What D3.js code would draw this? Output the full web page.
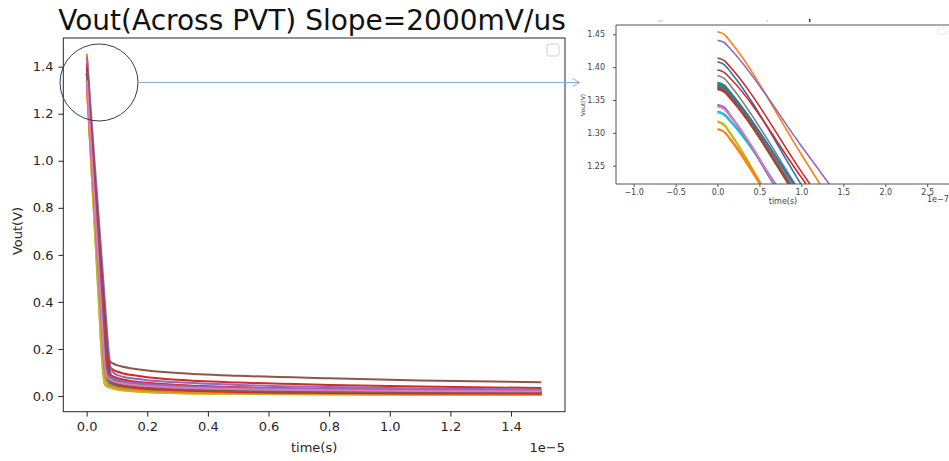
<!DOCTYPE html>
<html><head><meta charset="utf-8">
<script src="https://cdn.jsdelivr.net/npm/d3@7"></script>
<style>body{margin:0;background:#fff} svg{display:block;font-family:"DejaVu Sans",sans-serif}</style>
</head><body><svg id="c" width="949" height="461"></svg>
<script>
// time samples (microseconds)
const timeUs = [0, 0.008, 0.016, 0.1, 0.2, 0.3, 0.4, 0.5, 0.6, 0.7, 0.8, 0.9, 1.0, 1.2, 1.5, 2, 3, 5, 8, 11, 15];
// Vout (V) per PVT corner
const blueA   = [1.408,1.404,1.392,1.221,1.018,0.815,0.612,0.409,0.206,0.066,0.058,0.054,0.050,0.045,0.041,0.036,0.030,0.023,0.018,0.015,0.014];
const orangeA = [1.454,1.450,1.438,1.267,1.064,0.861,0.658,0.455,0.252,0.068,0.052,0.047,0.043,0.038,0.034,0.029,0.024,0.018,0.013,0.011,0.010];
const greenA  = [1.377,1.373,1.361,1.193,0.993,0.793,0.593,0.393,0.193,0.095,0.085,0.078,0.073,0.066,0.060,0.054,0.046,0.036,0.027,0.022,0.018];
const redA    = [1.414,1.410,1.399,1.241,1.053,0.865,0.677,0.489,0.301,0.135,0.118,0.110,0.104,0.096,0.089,0.080,0.069,0.057,0.047,0.040,0.034];
const purpleA = [1.441,1.4375,1.427,1.280,1.105,0.930,0.755,0.580,0.405,0.230,0.115,0.098,0.090,0.082,0.075,0.067,0.058,0.047,0.038,0.032,0.027];
const brownA  = [1.366,1.362,1.351,1.198,1.015,0.832,0.649,0.466,0.283,0.158,0.143,0.136,0.131,0.124,0.117,0.108,0.098,0.086,0.075,0.066,0.058];
const pinkA   = [1.342,1.338,1.325,1.149,0.939,0.729,0.519,0.309,0.110,0.085,0.076,0.070,0.065,0.059,0.054,0.048,0.041,0.034,0.029,0.026,0.024];
const grayA   = [1.387,1.383,1.371,1.207,1.011,0.815,0.619,0.423,0.227,0.058,0.047,0.042,0.038,0.033,0.029,0.024,0.018,0.013,0.010,0.008,0.007];
const oliveA  = [1.316,1.311,1.297,1.101,0.867,0.633,0.399,0.165,0.048,0.039,0.034,0.030,0.027,0.023,0.020,0.016,0.012,0.009,0.006,0.005,0.004];
const cyanA   = [1.331,1.327,1.316,1.164,0.982,0.800,0.618,0.436,0.254,0.078,0.048,0.043,0.039,0.034,0.030,0.025,0.020,0.015,0.012,0.010,0.009];
const blueB   = [1.373,1.369,1.358,1.206,1.024,0.842,0.660,0.478,0.296,0.114,0.056,0.051,0.047,0.042,0.037,0.031,0.025,0.019,0.015,0.013,0.012];
const orangeB = [1.305,1.301,1.288,1.115,0.908,0.701,0.494,0.287,0.088,0.049,0.042,0.038,0.034,0.030,0.026,0.022,0.017,0.013,0.010,0.009,0.008];
const greenB  = [1.369,1.365,1.353,1.191,0.997,0.803,0.609,0.415,0.221,0.080,0.070,0.064,0.060,0.054,0.049,0.043,0.035,0.027,0.021,0.018,0.016];
const redB    = [1.396,1.392,1.382,1.232,1.054,0.876,0.698,0.520,0.342,0.164,0.090,0.082,0.077,0.070,0.063,0.056,0.047,0.037,0.029,0.025,0.022];
const purpleB = [1.341,1.337,1.324,1.149,0.940,0.731,0.522,0.313,0.115,0.085,0.076,0.070,0.066,0.060,0.054,0.048,0.041,0.033,0.027,0.024,0.022];
const brownB  = [1.368,1.364,1.353,1.195,1.007,0.819,0.631,0.443,0.255,0.080,0.060,0.055,0.050,0.045,0.040,0.035,0.029,0.022,0.018,0.016,0.015];
const pinkB   = [1.340,1.336,1.324,1.153,0.950,0.747,0.544,0.341,0.138,0.078,0.070,0.064,0.060,0.054,0.049,0.043,0.037,0.030,0.025,0.022,0.020];
const grayB   = [1.375,1.371,1.360,1.199,1.008,0.817,0.626,0.435,0.244,0.060,0.044,0.039,0.035,0.030,0.026,0.021,0.016,0.012,0.009,0.007,0.006];
const oliveB  = [1.318,1.313,1.299,1.104,0.871,0.638,0.405,0.172,0.050,0.041,0.036,0.032,0.029,0.025,0.021,0.017,0.013,0.010,0.007,0.006,0.005];
const cyanB   = [1.333,1.329,1.318,1.160,0.972,0.784,0.596,0.408,0.220,0.062,0.050,0.045,0.041,0.036,0.032,0.027,0.021,0.016,0.013,0.011,0.010];
const blueC   = [1.375,1.371,1.360,1.205,1.020,0.835,0.650,0.465,0.280,0.095,0.055,0.050,0.046,0.041,0.036,0.031,0.025,0.019,0.015,0.014,0.013];
const orangeC = [1.306,1.302,1.290,1.117,0.912,0.707,0.502,0.297,0.092,0.050,0.043,0.039,0.035,0.031,0.027,0.022,0.017,0.013,0.010,0.009,0.008];
const greenC  = [1.371,1.367,1.355,1.191,0.995,0.799,0.603,0.407,0.211,0.085,0.074,0.068,0.063,0.057,0.051,0.045,0.037,0.028,0.021,0.019,0.017];
const redC    = [1.367,1.363,1.352,1.192,1.002,0.812,0.622,0.432,0.242,0.070,0.058,0.052,0.047,0.041,0.036,0.030,0.024,0.017,0.013,0.011,0.010];
const purpleC = [1.343,1.339,1.326,1.150,0.940,0.730,0.520,0.310,0.110,0.088,0.080,0.074,0.069,0.063,0.057,0.051,0.043,0.035,0.029,0.027,0.025];
const brownC  = [1.370,1.366,1.355,1.195,1.005,0.815,0.625,0.435,0.245,0.072,0.058,0.053,0.049,0.044,0.039,0.034,0.028,0.021,0.017,0.015,0.014];
const pinkC   = [1.341,1.337,1.325,1.152,0.947,0.742,0.537,0.332,0.127,0.075,0.068,0.062,0.058,0.053,0.048,0.042,0.036,0.029,0.024,0.021,0.020];

const seriesList = [blueA,orangeA,greenA,redA,purpleA,brownA,pinkA,grayA,oliveA,cyanA,
                    blueB,orangeB,greenB,redB,purpleB,brownB,pinkB,grayB,oliveB,cyanB,
                    blueC,orangeC,greenC,redC,purpleC,brownC,pinkC];
const palette = ["#1f77b4","#ff7f0e","#2ca02c","#d62728","#9467bd","#8c564b","#e377c2","#7f7f7f","#bcbd22","#17becf"];

const mainXTicks = [0,2,4,6,8,10,12,14];               // microseconds
const mainXLabels = ["0.0","0.2","0.4","0.6","0.8","1.0","1.2","1.4"];
const mainYTicks = [0,0.2,0.4,0.6,0.8,1.0,1.2,1.4];
const insetXTicks = [-0.1,-0.05,0,0.05,0.1,0.15,0.2,0.25]; // microseconds
const insetXLabels = ["\u22121.0","\u22120.5","0.0","0.5","1.0","1.5","2.0","2.5"];
const insetYTicks = [1.25,1.30,1.35,1.40,1.45];

const titleText = "Vout(Across PVT) Slope=2000mV/us";

const svg = d3.select("#c");
const defs = svg.append("defs");

// ---------- main chart ----------
const M = {l:63.3, r:565, t:38, b:411.7};
const x = d3.scaleLinear().domain([-0.77, 15.78]).range([M.l, M.r]);
const y = d3.scaleLinear().domain([-0.0668, 1.522]).range([M.b, M.t]);

defs.append("clipPath").attr("id","mainClip").append("rect")
  .attr("x",M.l).attr("y",M.t).attr("width",M.r-M.l).attr("height",M.b-M.t);

const mainLine = d3.line().x((d,i)=>x(timeUs[i])).y(d=>y(d)).curve(d3.curveMonotoneX);
svg.append("g").attr("clip-path","url(#mainClip)")
  .selectAll("path").data(seriesList).join("path")
  .attr("d",mainLine).attr("fill","none")
  .attr("stroke",(d,i)=>palette[i%10]).attr("stroke-width",2).attr("stroke-linejoin","round");

svg.append("rect").attr("x",M.l).attr("y",M.t).attr("width",M.r-M.l).attr("height",M.b-M.t)
  .attr("fill","none").attr("stroke","#262626").attr("stroke-width",1);

const xAxis = svg.append("g").attr("transform",`translate(0,${M.b})`)
  .call(d3.axisBottom(x).tickValues(mainXTicks).tickFormat((d,i)=>mainXLabels[i]).tickSize(4.9).tickPadding(5));
const yAxis = svg.append("g").attr("transform",`translate(${M.l},0)`)
  .call(d3.axisLeft(y).tickValues(mainYTicks).tickFormat(d3.format(".1f")).tickSize(4.9).tickPadding(5));
[xAxis,yAxis].forEach(g=>{
  g.select(".domain").remove();
  g.selectAll("line").attr("stroke","#262626");
  g.selectAll("text").attr("fill","#262626").style("font-size","13px").style("font-family","DejaVu Sans");
});

svg.append("text").attr("x",(M.l+M.r)/2).attr("y",452).attr("text-anchor","middle")
  .attr("fill","#262626").style("font-size","13px").text("time(s)");
svg.append("text").attr("x",M.r).attr("y",452).attr("text-anchor","end")
  .attr("fill","#262626").style("font-size","13px").text("1e\u22125");
svg.append("text").attr("transform","translate(22,231) rotate(-90)").attr("text-anchor","middle")
  .attr("fill","#262626").style("font-size","13px").text("Vout(V)");
svg.append("text").attr("x",312).attr("y",30).attr("text-anchor","middle")
  .attr("fill","#111").style("font-size","28px").text(titleText);

// empty legend box
svg.append("rect").attr("x",547).attr("y",44).attr("width",12).attr("height",12).attr("rx",2.5)
  .attr("fill","#fff").attr("stroke","#cfcfcf").attr("stroke-width",1);

// ---------- inset (zoomed view) ----------
const I = {l:616, r:960, t:25, b:184};
const xi = d3.scaleLinear().domain([-0.121, 0.276]).range([616, 949]);
const yi = d3.scaleLinear().domain([1.2221, 1.4642]).range([I.b, I.t]);

defs.append("clipPath").attr("id","insetOuter").append("rect")
  .attr("x",579).attr("y",14).attr("width",370).attr("height",200);
defs.append("clipPath").attr("id","insetClip").append("rect")
  .attr("x",I.l).attr("y",I.t).attr("width",949-I.l).attr("height",I.b-I.t);

const ig = svg.append("g").attr("clip-path","url(#insetOuter)");
const insetLine = d3.line().x((d,i)=>xi(timeUs[i])).y(d=>yi(d)).curve(d3.curveMonotoneX);
ig.append("g").attr("clip-path","url(#insetClip)")
  .selectAll("path").data(seriesList).join("path")
  .attr("d",insetLine).attr("fill","none")
  .attr("stroke",(d,i)=>palette[i%10]).attr("stroke-width",1.6);

ig.append("path").attr("d",`M${I.r},${I.t}H${I.l}V${I.b}H${I.r}`)
  .attr("fill","none").attr("stroke","#555").attr("stroke-width",1);

const xiAxis = ig.append("g").attr("transform",`translate(0,${I.b})`)
  .call(d3.axisBottom(xi).tickValues(insetXTicks).tickFormat((d,i)=>insetXLabels[i]).tickSize(3).tickPadding(2));
const yiAxis = ig.append("g").attr("transform",`translate(${I.l},0)`)
  .call(d3.axisLeft(yi).tickValues(insetYTicks).tickFormat(d3.format(".2f")).tickSize(3).tickPadding(8));
[xiAxis,yiAxis].forEach(g=>{
  g.select(".domain").remove();
  g.selectAll("line").attr("stroke","#555");
  g.selectAll("text").attr("fill","#444").style("font-size","8px").style("font-family","DejaVu Sans");
});
ig.append("text").attr("x",783).attr("y",204).attr("text-anchor","middle")
  .attr("fill","#444").style("font-size","8px").text("time(s)");
ig.append("text").attr("x",927).attr("y",202)
  .attr("fill","#444").style("font-size","8px").text("1e\u22127");
ig.append("text").attr("transform","translate(585,105) rotate(-90)").attr("text-anchor","middle")
  .attr("fill","#444").style("font-size","6px").text("Vout(V)");
ig.append("rect").attr("x",938).attr("y",28).attr("width",9).attr("height",6).attr("rx",1.5)
  .attr("fill","#fff").attr("stroke","#ddd").attr("stroke-width",0.8);
// remnants of clipped title row
ig.append("rect").attr("x",658).attr("y",20.5).attr("width",5).attr("height",1).attr("fill","#bbb");
ig.append("rect").attr("x",766).attr("y",20.5).attr("width",2).attr("height",1).attr("fill","#bbb");
ig.append("rect").attr("x",809).attr("y",19).attr("width",1.5).attr("height",3).attr("fill","#333");

// ---------- annotation: circle + arrow ----------
svg.append("ellipse").attr("cx",99).attr("cy",82.5).attr("rx",39).attr("ry",38.5)
  .attr("fill","none").attr("stroke","#2f3e5e").attr("stroke-width",1);
svg.append("line").attr("x1",138).attr("y1",82.5).attr("x2",579).attr("y2",82.5)
  .attr("stroke","#8eaadb").attr("stroke-width",1);
svg.append("path").attr("d","M572.5,78.5L579.5,82.5L572.5,86.5")
  .attr("fill","none").attr("stroke","#8eaadb").attr("stroke-width",1);
</script></body></html>
